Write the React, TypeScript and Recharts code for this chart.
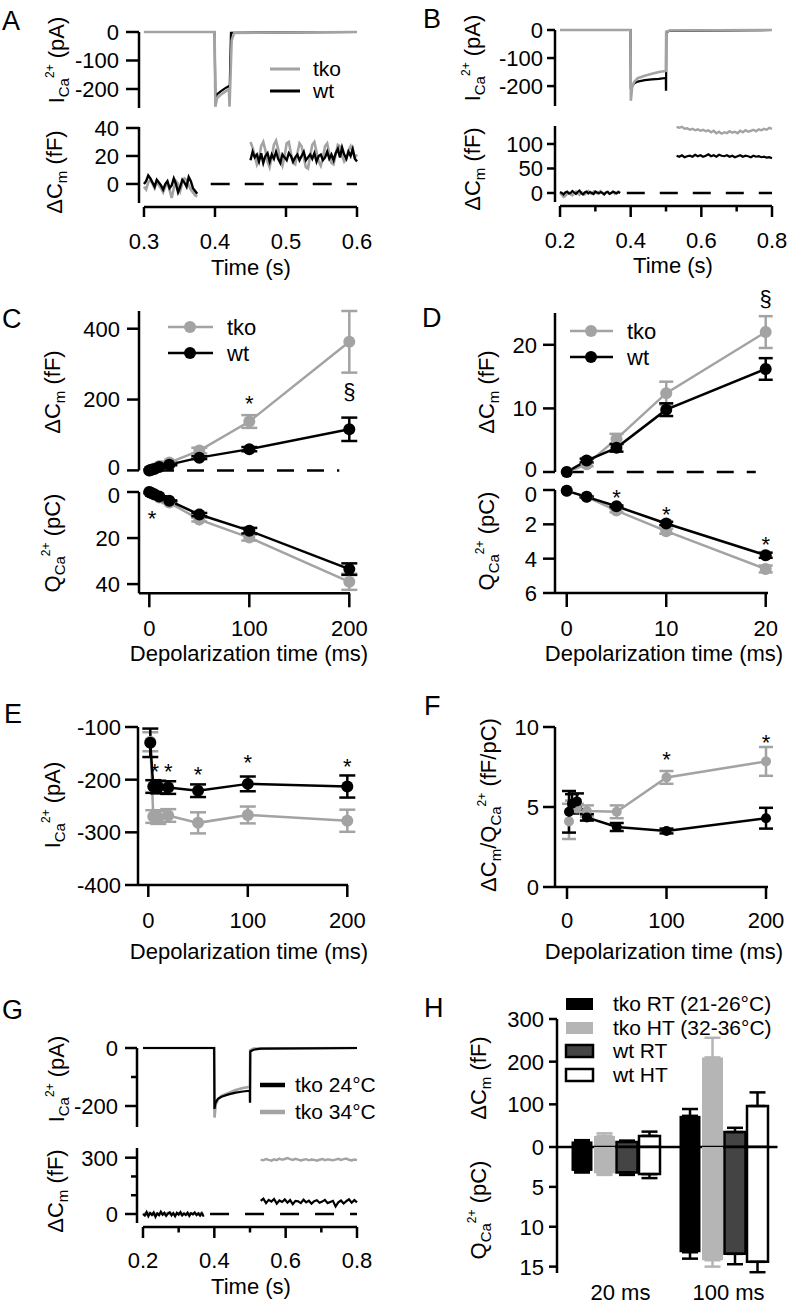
import React from 'react'
import { LineChart, Line, BarChart, Bar, XAxis, YAxis, ErrorBar, ReferenceLine, ReferenceDot } from 'recharts'

const FONT = '"Liberation Sans", Arial, Helvetica, sans-serif'
const GRAY = '#a3a3a3'
const BLACK = '#000'

// ---- A: 20 ms pulse (current steps, then Cm before / after)
const aIcaTkoT = [0.3, 0.3995, 0.4005, 0.403, 0.408, 0.414, 0.4195, 0.4205, 0.4235, 0.427, 0.6]
const aIcaTko = [0, 0, -262, -232, -220, -210, -200, -262, -30, -3, 0]
const aIcaWtT = [0.3, 0.3995, 0.4005, 0.403, 0.408, 0.414, 0.4195, 0.4205, 0.4225, 0.6]
const aIcaWt = [0, 0, -228, -218, -208, -198, -190, -225, -3, 0]
const aCmPreTko = [-2, -4, 1, 3, 0, -3, 2, -1, -3, -6, -2, 1, -4, -10, -3, 2, 0, -5, 1, 4, 3, -1, -4, -6, -8, -9]
const aCmPreWt = [0, 2, 6, 4, 1, -2, 3, 1, -1, -4, 0, 2, -3, -1, 4, 0, -6, -2, 3, 1, -2, 5, 2, -3, -5, -7]
const aCmPostTko = [30, 26, 20, 14, 18, 27, 30, 24, 16, 12, 19, 28, 31, 25, 17, 13, 20, 29, 30, 22, 15, 14, 22, 29, 27, 19, 12, 11, 20, 28, 30, 23, 16, 13, 19, 27, 29, 22, 15, 14, 21, 28, 27, 20, 16, 18, 24, 27, 23, 19, 21]
const aCmPostWt = [17, 23, 19, 21, 16, 22, 15, 20, 22, 16, 21, 18, 23, 18, 15, 21, 19, 17, 22, 20, 16, 19, 21, 17, 20, 23, 17, 19, 21, 18, 22, 16, 20, 21, 17, 19, 23, 18, 21, 17, 22, 25, 19, 26, 21, 18, 23, 20, 25, 18, 16]

// ---- B: 100 ms pulse
const bIcaTkoT = [0.2, 0.3995, 0.4005, 0.404, 0.41, 0.42, 0.44, 0.46, 0.48, 0.4995, 0.5005, 0.51, 0.8]
const bIcaTko = [0, 0, -252, -205, -185, -172, -163, -156, -150, -146, -6, -2, 0]
const bIcaWtT = [0.2, 0.3995, 0.4005, 0.404, 0.41, 0.42, 0.44, 0.46, 0.48, 0.4995, 0.4998, 0.5003, 0.5008, 0.51, 0.8]
const bIcaWt = [0, 0, -210, -200, -190, -184, -179, -176, -174, -171, -213, -213, -8, -3, 0]
const bCmPreTko = [0, -4, -8, -6, -2, 1, -3, -5, 0, 3, -1, -4, 2, 0, -3, 1, 4, 0, -2, 3, 1, -1, 2, 4, 0, -2, 1, 3, -1, 0, 2, -2, 1, 3, 0]
const bCmPreWt = [2, 0, -3, 1, 3, -1, 0, 4, 1, -2, 2, 5, 0, -3, 1, 3, -1, 2, 0, -2, 3, 1, -1, 2, 0, -3, 1, 2, -2, 0, 3, 1, -1, 2, 0]
const bCmPostTko = [135, 133, 135, 131, 132, 129, 131, 128, 130, 127, 129, 126, 128, 124, 127, 122, 125, 121, 124, 122, 126, 123, 125, 122, 127, 124, 128, 125, 127, 129, 126, 130, 128, 131, 129, 133, 131]
const bCmPostWt = [76, 74, 77, 73, 75, 76, 74, 78, 75, 77, 74, 76, 79, 75, 77, 74, 78, 76, 75, 77, 74, 76, 73, 75, 77, 74, 76, 75, 73, 76, 74, 75, 73, 74, 72, 73, 71]

// ---- C / D: depolarization series (D = first five durations)
const cT = [0, 2, 5, 10, 20, 50, 100, 200]
const cCmTko = [0, 1.2, 5.2, 12.4, 22, 56, 138, 363]
const cCmTkoErr = [0, 0.3, 0.8, 1.8, 2.5, 8, 18, 87]
const cCmWt = [0, 1.8, 3.8, 9.8, 16.2, 36, 60, 116]
const cCmWtErr = [0, 0.3, 0.6, 1.0, 1.7, 4, 6, 33]
const cQTko = [0.05, 0.4, 1.2, 2.4, 4.6, 12, 19.8, 39]
const cQTkoErr = [0, 0.03, 0.1, 0.15, 0.2, 0.8, 1.3, 3.5]
const cQWt = [0.05, 0.4, 0.95, 1.95, 3.8, 9.8, 16.8, 33.5]
const cQWtErr = [0, 0.03, 0.05, 0.1, 0.15, 0.7, 1.2, 2.5]

// ---- E: peak current
const eT = [2, 5, 10, 20, 50, 100, 200]
const eTko = [-128, -270, -272, -268, -282, -267, -278]
const eTkoErr = [18, 12, 12, 12, 20, 16, 21]
const eWt = [-130, -213, -214, -215, -221, -208, -213]
const eWtErr = [27, 12, 12, 12, 12, 14, 21]

// ---- F: efficiency
const fT = [2, 5, 10, 20, 50, 100, 200]
const fTko = [4.1, 5.0, 4.9, 4.75, 4.7, 6.85, 7.85]
const fTkoErr = [1.1, 0.4, 0.3, 0.35, 0.4, 0.4, 0.9]
const fWt = [4.7, 5.2, 5.35, 4.35, 3.75, 3.5, 4.3]
const fWtErr = [1.3, 0.6, 0.5, 0.2, 0.25, 0.15, 0.65]

// ---- G: tko at 24 vs 34 °C
const g24T = [0.2, 0.3995, 0.4005, 0.403, 0.41, 0.42, 0.44, 0.46, 0.48, 0.4995, 0.4998, 0.5003, 0.5008, 0.51, 0.53, 0.8]
const g24 = [0, 0, -210, -190, -175, -168, -160, -154, -150, -147, -185, -185, -12, -6, -2, 0]
const g34T = [0.2, 0.3995, 0.4005, 0.404, 0.41, 0.42, 0.44, 0.46, 0.48, 0.4995, 0.5005, 0.51, 0.8]
const g34 = [0, 0, -240, -195, -178, -165, -155, -145, -138, -134, -8, -2, 0]
const gCmPre24 = [0, -8, 10, -12, 5, -5, 8, -15, 3, -6, 12, -4, 6, -10, 2, 9, -7, 4, -12, 6, -3, 10, -8, 2, -5, 7, -10, 4, -2, 8, -6, 3, -9, 5, -14]
const gCmPre34 = [-5, 2, -3, 6, 0, 3, -4, 1, 5, -2, 0, 4, -3, 2, 6, -1, 3, 0, -5, 2, 4, -2, 1, 5, 0, -3, 2, 4, -1, 3, 0, -2, 5, 1, -3]
const gCmPost34 = [290, 286, 293, 288, 284, 291, 287, 295, 289, 293, 298, 292, 288, 294, 290, 285, 289, 292, 286, 290, 288, 284, 289, 293, 287, 291, 289, 286, 290, 294, 288, 292, 295, 289, 285, 290, 287]
const gCmPost24 = [70, 82, 58, 75, 66, 80, 55, 72, 64, 78, 60, 74, 52, 70, 68, 58, 76, 62, 71, 55, 68, 73, 60, 66, 75, 58, 64, 70, 40, 62, 72, 56, 68, 78, 60, 74, 62]

// ---- H: bars, dCm up / Q down
const hCats = ['20 ms', '100 ms']
const hCmTkoRT = [13, 73]
const hCmTkoRTErr = [3, 16]
const hCmTkoHT = [26, 210]
const hCmTkoHTErr = [6, 46]
const hCmWtRT = [12, 35]
const hCmWtRTErr = [3, 10]
const hCmWtHT = [26, 96]
const hCmWtHTErr = [10, 32]
const hQTkoRT = [3.0, 13.2]
const hQTkoRTErr = [0.2, 0.8]
const hQTkoHT = [3.3, 14.2]
const hQTkoHTErr = [0.2, 0.8]
const hQWtRT = [3.2, 13.4]
const hQWtRTErr = [0.3, 1.3]
const hQWtHT = [3.4, 14.4]
const hQWtHTErr = [0.5, 1.3]

const pts = (t: number[], v: number[]) => t.map((x, i) => ({ t: x, v: v[i] }))
const sampled = (t0: number, dt: number, v: number[]) => v.map((y, i) => ({ t: t0 + i * dt, v: y }))

const cRows = cT.map((t, i) => ({ t, tko: cCmTko[i], tkoE: cCmTkoErr[i], wt: cCmWt[i], wtE: cCmWtErr[i] }))
const cQRows = cT.map((t, i) => ({ t, tko: cQTko[i], tkoE: cQTkoErr[i], wt: cQWt[i], wtE: cQWtErr[i] }))
const dRows = cRows.filter((r) => r.t <= 20)
const dQRows = cQRows.filter((r) => r.t <= 20)
const eRows = eT.map((t, i) => ({ t, tko: eTko[i], tkoE: eTkoErr[i], wt: eWt[i], wtE: eWtErr[i] }))
const fRows = fT.map((t, i) => ({ t, tko: fTko[i], tkoE: fTkoErr[i], wt: fWt[i], wtE: fWtErr[i] }))
const hCmRows = hCats.map((cat, i) => ({
  cat,
  tkoRT: hCmTkoRT[i], tkoRTe: [0, hCmTkoRTErr[i]],
  tkoHT: hCmTkoHT[i], tkoHTe: [0, hCmTkoHTErr[i]],
  wtRT: hCmWtRT[i], wtRTe: [0, hCmWtRTErr[i]],
  wtHT: hCmWtHT[i], wtHTe: [0, hCmWtHTErr[i]],
}))
const hQRows = hCats.map((cat, i) => ({
  cat,
  tkoRT: hQTkoRT[i], tkoRTe: [0, hQTkoRTErr[i]],
  tkoHT: hQTkoHT[i], tkoHTe: [0, hQTkoHTErr[i]],
  wtRT: hQWtRT[i], wtRTe: [0, hQWtRTErr[i]],
  wtHT: hQWtHT[i], wtHTe: [0, hQWtHTErr[i]],
}))

type Rect = { x0: number; x1: number; y0: number; y1: number }
// room around the plot area: YAxis is YW wide, a shown XAxis is XH tall
const PAD = { top: 30, right: 30, left: 100, bottom: 80 }
const YW = 60
const XH = 50

// chart placed so that its plot area lands on r (page pixels)
function box(r: Rect, hasX: boolean) {
  return {
    style: { position: 'absolute' as const, left: r.x0 - PAD.left, top: r.y0 - PAD.top },
    width: r.x1 - r.x0 + PAD.left + PAD.right,
    height: r.y1 - r.y0 + PAD.top + PAD.bottom,
    margin: { top: PAD.top, right: PAD.right, left: PAD.left - YW, bottom: hasX ? PAD.bottom - XH : PAD.bottom },
  }
}

// nudge moves one label a few px (two stacked "0" labels would touch)
function yTick(len: number, gap: number, minor: number[] = [], nudge: Record<string, number> = {}) {
  return (p: any) => {
    const v = p.payload.value
    const m = minor.includes(v)
    return (
      <g>
        <line x1={p.x} x2={p.x - (m ? len / 2 : len)} y1={p.y} y2={p.y} stroke={BLACK} strokeWidth={2.5} />
        {m ? null : (
          <text x={p.x - len - gap} y={p.y + (nudge[String(v)] || 0)} dy="0.36em" textAnchor="end" fontSize={22} fontFamily={FONT} fill={BLACK}>
            {String(v)}
          </text>
        )}
      </g>
    )
  }
}

function xTick(gap: number, len: number, labelDy: number, minor: number[] = [], fmt = (v: any) => String(v), dx = 0) {
  return (p: any) => {
    const v = p.payload.value
    const m = minor.includes(v)
    const l = m ? len / 2 : len
    return (
      <g>
        {l > 0 ? <line x1={p.x} x2={p.x} y1={p.y + gap} y2={p.y + gap + l} stroke={BLACK} strokeWidth={2.5} /> : null}
        {m ? null : (
          <text x={p.x + dx} y={p.y + labelDy} dy="0.36em" textAnchor="middle" fontSize={22} fontFamily={FONT} fill={BLACK}>
            {fmt(v)}
          </text>
        )}
      </g>
    )
  }
}

const axisStyle = { stroke: BLACK, strokeWidth: 2.5 }

type TraceLine = { data: { t: number; v: number }[]; color: string; w: number }
type TraceProps = {
  r: Rect
  xDomain: [number, number]
  yDomain: [number, number]
  yTicks: number[]
  yMinor?: number[]
  yLen: number
  yGap: number
  lines: TraceLine[]
  dash?: { x0: number; x1: number; pattern: string }
  xAxis?: { ticks: number[]; minor?: number[]; from: number; to: number; len: number; labelDy: number }
}

function TracePlot(p: TraceProps) {
  const b = box(p.r, !!p.xAxis)
  const pxPerY = (p.r.y1 - p.r.y0) / (p.yDomain[1] - p.yDomain[0])
  const xLineY = p.yDomain[0] - 4 / pxPerY
  return (
    <div style={b.style}>
      <LineChart width={b.width} height={b.height} margin={b.margin}>
        {p.xAxis ? (
          <XAxis
            type="number"
            dataKey="t"
            domain={p.xDomain}
            ticks={p.xAxis.ticks}
            interval={0}
            height={XH}
            axisLine={false}
            tickLine={false}
            tickSize={0}
            tickMargin={0}
            tick={xTick(4, p.xAxis.len, p.xAxis.labelDy, p.xAxis.minor, (v) => v.toFixed(1))}
          />
        ) : (
          <XAxis type="number" dataKey="t" domain={p.xDomain} hide />
        )}
        <YAxis
          type="number"
          domain={p.yDomain}
          ticks={p.yTicks}
          interval={0}
          width={YW}
          axisLine={axisStyle}
          tickLine={false}
          tickSize={0}
          tickMargin={0}
          tick={yTick(p.yLen, p.yGap, p.yMinor)}
        />
        {p.dash ? (
          <ReferenceLine
            segment={[{ x: p.dash.x0, y: 0 }, { x: p.dash.x1, y: 0 }]}
            stroke={BLACK}
            strokeWidth={2.5}
            strokeDasharray={p.dash.pattern}
          />
        ) : null}
        {p.xAxis ? (
          <ReferenceLine
            segment={[{ x: p.xAxis.from, y: xLineY }, { x: p.xAxis.to, y: xLineY }]}
            stroke={BLACK}
            strokeWidth={2.5}
            ifOverflow="visible"
          />
        ) : null}
        {p.lines.map((l, i) => (
          <Line
            key={i}
            data={l.data}
            dataKey="v"
            type="linear"
            stroke={l.color}
            strokeWidth={l.w}
            dot={false}
            activeDot={false}
            isAnimationActive={false}
          />
        ))}
      </LineChart>
    </div>
  )
}

type Mark = { x: number; y: number; s: string }
type PointProps = {
  r: Rect
  data: any[]
  xDomain: [number, number]
  yDomain: [number, number]
  yTicks: number[]
  yLen: number
  yGap: number
  yNudge?: Record<string, number>
  reversed?: boolean
  xTicks?: number[]
  xLen?: number
  xLabelDy?: number
  dotR: number
  cap: number
  marks?: Mark[]
  dash?: { x0: number; x1: number; pattern: string }
}

function PointPlot(p: PointProps) {
  const b = box(p.r, !!p.xTicks)
  return (
    <div style={b.style}>
      <LineChart width={b.width} height={b.height} margin={b.margin} data={p.data}>
        {p.xTicks ? (
          <XAxis
            type="number"
            dataKey="t"
            domain={p.xDomain}
            ticks={p.xTicks}
            interval={0}
            height={XH}
            axisLine={axisStyle}
            tickLine={false}
            tickSize={0}
            tickMargin={0}
            tick={xTick(0, p.xLen || 12, p.xLabelDy || 35)}
          />
        ) : (
          <XAxis type="number" dataKey="t" domain={p.xDomain} hide />
        )}
        <YAxis
          type="number"
          domain={p.yDomain}
          ticks={p.yTicks}
          reversed={p.reversed}
          interval={0}
          width={YW}
          axisLine={axisStyle}
          tickLine={false}
          tickSize={0}
          tickMargin={0}
          tick={yTick(p.yLen, p.yGap, [], p.yNudge)}
        />
        {p.dash ? (
          <ReferenceLine
            segment={[{ x: p.dash.x0, y: 0 }, { x: p.dash.x1, y: 0 }]}
            stroke={BLACK}
            strokeWidth={2.5}
            strokeDasharray={p.dash.pattern}
          />
        ) : null}
        <Line
          dataKey="tko"
          type="linear"
          stroke={GRAY}
          strokeWidth={2.5}
          dot={{ r: p.dotR, fill: GRAY, stroke: 'none' }}
          activeDot={false}
          isAnimationActive={false}
        >
          <ErrorBar dataKey="tkoE" width={p.cap} stroke={GRAY} strokeWidth={2.5} direction="y" />
        </Line>
        <Line
          dataKey="wt"
          type="linear"
          stroke={BLACK}
          strokeWidth={2.5}
          dot={{ r: p.dotR, fill: BLACK, stroke: 'none' }}
          activeDot={false}
          isAnimationActive={false}
        >
          <ErrorBar dataKey="wtE" width={p.cap} stroke={BLACK} strokeWidth={2.5} direction="y" />
        </Line>
        {(p.marks || []).map((m, i) => (
          <ReferenceDot
            key={i}
            x={m.x}
            y={m.y}
            r={0}
            fill="none"
            stroke="none"
            ifOverflow="visible"
            label={{ value: m.s, position: 'center', fontSize: 22, fill: BLACK, fontFamily: FONT }}
          />
        ))}
      </LineChart>
    </div>
  )
}

const BAR_FILL = { tkoRT: '#000', tkoHT: '#b5b5b5', wtRT: '#444', wtHT: '#fff' }

function HBars({ r, data, domain, ticks, reversed, showX }: { r: Rect; data: any[]; domain: [number, number]; ticks: number[]; reversed?: boolean; showX?: boolean }) {
  const b = box(r, !!showX)
  return (
    <div style={b.style}>
      <BarChart width={b.width} height={b.height} margin={b.margin} data={data} barCategoryGap={10} barGap={1.5}>
        {showX ? (
          <XAxis
            dataKey="cat"
            type="category"
            padding={{ left: 4.5, right: 0 }}
            interval={0}
            height={XH}
            axisLine={false}
            tickLine={false}
            tickSize={0}
            tickMargin={0}
            tick={xTick(0, 0, 19, [], (v) => String(v), 5)}
          />
        ) : (
          <XAxis dataKey="cat" type="category" padding={{ left: 4.5, right: 0 }} hide />
        )}
        <YAxis
          type="number"
          domain={domain}
          ticks={ticks}
          reversed={reversed}
          interval={0}
          width={YW}
          axisLine={axisStyle}
          tickLine={false}
          tickSize={0}
          tickMargin={0}
          tick={yTick(8, 5)}
        />
        <Bar dataKey="tkoRT" fill={BAR_FILL.tkoRT} isAnimationActive={false}>
          <ErrorBar dataKey="tkoRTe" width={8} stroke="#000" strokeWidth={2.5} direction="y" />
        </Bar>
        <Bar dataKey="tkoHT" fill={BAR_FILL.tkoHT} isAnimationActive={false}>
          <ErrorBar dataKey="tkoHTe" width={8} stroke={BAR_FILL.tkoHT} strokeWidth={2.5} direction="y" />
        </Bar>
        <Bar dataKey="wtRT" fill={BAR_FILL.wtRT} stroke="#000" strokeWidth={2.5} isAnimationActive={false}>
          <ErrorBar dataKey="wtRTe" width={8} stroke="#000" strokeWidth={2.5} direction="y" />
        </Bar>
        <Bar dataKey="wtHT" fill={BAR_FILL.wtHT} stroke="#000" strokeWidth={2.5} isAnimationActive={false}>
          <ErrorBar dataKey="wtHTe" width={8} stroke="#000" strokeWidth={2.5} direction="y" />
        </Bar>
        {!reversed ? <ReferenceLine y={0} stroke="#000" strokeWidth={2.5} /> : null}
      </BarChart>
    </div>
  )
}

type Part = [string, 'n' | 'b' | 'p']
function YTitle({ x, y, parts }: { x: number; y: number; parts: Part[] }) {
  let cur = 0
  const spans = parts.map(([s, k], i) => {
    const target = k === 'b' ? 5 : k === 'p' ? -10 : 0
    const dy = target - cur
    cur = target
    return (
      <tspan key={i} dy={dy} fontSize={k === 'n' ? 22 : k === 'b' ? 15 : 12}>
        {s}
      </tspan>
    )
  })
  return (
    <text transform={`rotate(-90 ${x} ${y})`} x={x} y={y + 7.7} textAnchor="middle" fontSize={22}>
      {spans}
    </text>
  )
}

const ICA: Part[] = [['I', 'n'], ['Ca', 'b'], ['2+', 'p'], [' (pA)', 'n']]
const DCM: Part[] = [['ΔC', 'n'], ['m', 'b'], [' (fF)', 'n']]
const QCA: Part[] = [['Q', 'n'], ['Ca', 'b'], ['2+', 'p'], [' (pC)', 'n']]
const RATIO: Part[] = [['ΔC', 'n'], ['m', 'b'], ['/Q', 'n'], ['Ca', 'b'], ['2+', 'p'], [' (fF/pC)', 'n']]

function Overlay() {
  const letters: [string, number, number][] = [
    ['A', 2, 30], ['B', 423, 28], ['C', 2, 328], ['D', 422, 327],
    ['E', 4, 723], ['F', 424, 715], ['G', 2, 1019], ['H', 424, 1017],
  ]
  const xTitles: [string, number, number][] = [
    ['Time (s)', 251, 267], ['Time (s)', 673, 265], ['Time (s)', 251, 1286],
    ['Depolarization time (ms)', 249, 653], ['Depolarization time (ms)', 664, 653],
    ['Depolarization time (ms)', 249, 951], ['Depolarization time (ms)', 664, 951],
  ]
  const hLegend: [string, string, string | null, number][] = [
    ['tko RT (21-26°C)', BAR_FILL.tkoRT, null, 1004],
    ['tko HT (32-36°C)', BAR_FILL.tkoHT, null, 1028],
    ['wt RT', BAR_FILL.wtRT, '#000', 1051],
    ['wt HT', BAR_FILL.wtHT, '#000', 1075],
  ]
  return (
    <svg width={793} height={1307} style={{ position: 'absolute', left: 0, top: 0, pointerEvents: 'none' }} fontFamily={FONT} fill="#000">
      {letters.map(([s, x, y]) => (
        <text key={s} x={x} y={y} fontSize={27}>{s}</text>
      ))}
      {xTitles.map(([s, x, y], i) => (
        <text key={i} x={x} y={y} dy="0.35em" textAnchor="middle" fontSize={22}>{s}</text>
      ))}
      <YTitle x={56} y={60} parts={ICA} />
      <YTitle x={54} y={172} parts={DCM} />
      <YTitle x={472} y={58} parts={ICA} />
      <YTitle x={472} y={169} parts={DCM} />
      <YTitle x={52} y={392} parts={DCM} />
      <YTitle x={52} y={543} parts={QCA} />
      <YTitle x={486} y={392} parts={DCM} />
      <YTitle x={486} y={541} parts={QCA} />
      <YTitle x={52} y={805} parts={ICA} />
      <YTitle x={488} y={805} parts={RATIO} />
      <YTitle x={56} y={1079} parts={ICA} />
      <YTitle x={55} y={1191} parts={DCM} />
      <YTitle x={478} y={1078} parts={DCM} />
      <YTitle x={478} y={1210} parts={QCA} />

      {/* A legend */}
      <line x1={270} x2={300} y1={69} y2={69} stroke={GRAY} strokeWidth={3} />
      <text x={313} y={69} dy="0.35em" fontSize={21}>tko</text>
      <line x1={270} x2={300} y1={91} y2={91} stroke={BLACK} strokeWidth={3} />
      <text x={313} y={91} dy="0.35em" fontSize={21}>wt</text>

      {/* C legend */}
      <line x1={168} x2={213} y1={327} y2={327} stroke={GRAY} strokeWidth={2.5} />
      <circle cx={190} cy={327} r={6} fill={GRAY} />
      <text x={227} y={327} dy="0.35em" fontSize={22}>tko</text>
      <line x1={168} x2={213} y1={353} y2={353} stroke={BLACK} strokeWidth={2.5} />
      <circle cx={190} cy={353} r={6} fill={BLACK} />
      <text x={227} y={353} dy="0.35em" fontSize={22}>wt</text>

      {/* D legend */}
      <line x1={570} x2={613} y1={331} y2={331} stroke={GRAY} strokeWidth={2.5} />
      <circle cx={591} cy={331} r={6} fill={GRAY} />
      <text x={627} y={331} dy="0.35em" fontSize={22}>tko</text>
      <line x1={570} x2={613} y1={357} y2={357} stroke={BLACK} strokeWidth={2.5} />
      <circle cx={591} cy={357} r={6} fill={BLACK} />
      <text x={627} y={357} dy="0.35em" fontSize={22}>wt</text>

      {/* G legend */}
      <line x1={260} x2={285} y1={1085} y2={1085} stroke={BLACK} strokeWidth={4.5} />
      <text x={295} y={1085} dy="0.35em" fontSize={21}>tko 24°C</text>
      <line x1={260} x2={285} y1={1112} y2={1112} stroke={GRAY} strokeWidth={4.5} />
      <text x={295} y={1112} dy="0.35em" fontSize={21}>tko 34°C</text>

      {/* H legend */}
      {hLegend.map(([s, fill, stroke, y]) => (
        <g key={s}>
          <rect x={566} y={y - 6} width={27} height={12} fill={fill} stroke={stroke || 'none'} strokeWidth={2.5} />
          <text x={613} y={y} dy="0.35em" fontSize={21}>{s}</text>
        </g>
      ))}
    </svg>
  )
}

export default function App() {
  const aX: [number, number] = [0.293, 0.6]
  const bX: [number, number] = [0.1858, 0.8]
  const gX: [number, number] = [0.1832, 0.8]
  const tTicks = [0.2, 0.3, 0.4, 0.5, 0.6, 0.7, 0.8]
  const tMinor = [0.3, 0.5, 0.7]
  return (
    <div style={{ position: 'absolute', left: 0, top: 0, width: 793, height: 1307, background: '#fff', overflow: 'hidden', fontFamily: FONT }}>
      {/* A */}
      <TracePlot
        r={{ x0: 139, x1: 357, y0: 32, y1: 108 }}
        xDomain={aX}
        yDomain={[-266.7, 0]}
        yTicks={[-200, -100, 0]}
        yLen={13}
        yGap={7}
        lines={[
          { data: pts(aIcaWtT, aIcaWt), color: BLACK, w: 2.2 },
          { data: pts(aIcaTkoT, aIcaTko), color: GRAY, w: 2.6 },
        ]}
      />
      <TracePlot
        r={{ x0: 139, x1: 357, y0: 127, y1: 203 }}
        xDomain={aX}
        yDomain={[-13.6, 40.7]}
        yTicks={[0, 20, 40]}
        yLen={13}
        yGap={7}
        dash={{ x0: 0.394, x1: 0.6, pattern: '19 15' }}
        xAxis={{ ticks: [0.3, 0.4, 0.5, 0.6], from: 0.3, to: 0.6, len: 10, labelDy: 38 }}
        lines={[
          { data: sampled(0.3, 0.003, aCmPreTko), color: GRAY, w: 2.6 },
          { data: sampled(0.45, 0.003, aCmPostTko), color: GRAY, w: 2.6 },
          { data: sampled(0.3, 0.003, aCmPreWt), color: BLACK, w: 2.4 },
          { data: sampled(0.45, 0.003, aCmPostWt), color: BLACK, w: 2.4 },
        ]}
      />

      {/* B */}
      <TracePlot
        r={{ x0: 555, x1: 772, y0: 30, y1: 106 }}
        xDomain={bX}
        yDomain={[-271, 0]}
        yTicks={[-200, -100, 0]}
        yLen={8}
        yGap={4}
        lines={[
          { data: pts(bIcaWtT, bIcaWt), color: BLACK, w: 2.2 },
          { data: pts(bIcaTkoT, bIcaTko), color: GRAY, w: 2.6 },
        ]}
      />
      <TracePlot
        r={{ x0: 555, x1: 772, y0: 126, y1: 202 }}
        xDomain={bX}
        yDomain={[-18.4, 136.7]}
        yTicks={[0, 50, 100]}
        yLen={8}
        yGap={4}
        dash={{ x0: 0.389, x1: 0.8, pattern: '18 15' }}
        xAxis={{ ticks: tTicks, minor: tMinor, from: 0.2, to: 0.8, len: 11, labelDy: 38 }}
        lines={[
          { data: sampled(0.2, 0.005, bCmPreTko), color: GRAY, w: 2.4 },
          { data: sampled(0.53, 0.0075, bCmPostTko), color: GRAY, w: 2.4 },
          { data: sampled(0.2, 0.005, bCmPreWt), color: BLACK, w: 2.2 },
          { data: sampled(0.53, 0.0075, bCmPostWt), color: BLACK, w: 2.2 },
        ]}
      />

      {/* C */}
      <PointPlot
        r={{ x0: 139, x1: 350, y0: 310.6, y1: 470 }}
        data={cRows}
        xDomain={[-10.3, 200.7]}
        yDomain={[0, 450]}
        yTicks={[0, 200, 400]}
        yLen={12}
        yGap={7}
        yNudge={{ '0': -3 }}
        dotR={6}
        cap={8}
        dash={{ x0: 7.7, x1: 190, pattern: '17 13' }}
        marks={[{ x: 100, y: 190, s: '*' }, { x: 200, y: 223, s: '§' }]}
      />
      <PointPlot
        r={{ x0: 139, x1: 350, y0: 491.7, y1: 593 }}
        data={cQRows}
        xDomain={[-10.3, 200.7]}
        yDomain={[0, 44]}
        reversed
        yTicks={[0, 20, 40]}
        yLen={12}
        yGap={7}
        yNudge={{ '0': 3 }}
        xTicks={[0, 100, 200]}
        xLen={14}
        xLabelDy={35}
        dotR={6}
        cap={8}
        marks={[{ x: 2.7, y: 11.2, s: '*' }]}
      />

      {/* D */}
      <PointPlot
        r={{ x0: 555, x1: 768, y0: 313, y1: 472 }}
        data={dRows}
        xDomain={[-1.18, 20.23]}
        yDomain={[0, 25]}
        yTicks={[0, 10, 20]}
        yLen={12}
        yGap={6}
        yNudge={{ '0': -3 }}
        dotR={6}
        cap={7}
        dash={{ x0: 0, x1: 19, pattern: '17 13' }}
        marks={[{ x: 20, y: 27.4, s: '§' }]}
      />
      <PointPlot
        r={{ x0: 555, x1: 768, y0: 490, y1: 593 }}
        data={dQRows}
        xDomain={[-1.18, 20.23]}
        yDomain={[0, 6]}
        reversed
        yTicks={[0, 2, 4, 6]}
        yLen={12}
        yGap={6}
        yNudge={{ '0': 4 }}
        xTicks={[0, 10, 20]}
        xLen={14}
        xLabelDy={35}
        dotR={6}
        cap={7}
        marks={[{ x: 5, y: 0.44, s: '*' }, { x: 10, y: 1.43, s: '*' }, { x: 20, y: 3.17, s: '*' }]}
      />

      {/* E */}
      <PointPlot
        r={{ x0: 138, x1: 348, y0: 727, y1: 885 }}
        data={eRows}
        xDomain={[-10.35, 200.7]}
        yDomain={[-400, -100]}
        yTicks={[-400, -300, -200, -100]}
        yLen={13}
        yGap={4}
        xTicks={[0, 100, 200]}
        xLen={12}
        xLabelDy={35}
        dotR={6}
        cap={8}
        marks={[
          { x: 6.5, y: -184, s: '*' },
          { x: 20, y: -184, s: '*' },
          { x: 50, y: -190, s: '*' },
          { x: 100, y: -167, s: '*' },
          { x: 200, y: -175, s: '*' },
        ]}
      />

      {/* F */}
      <PointPlot
        r={{ x0: 555, x1: 768, y0: 727, y1: 887 }}
        data={fRows}
        xDomain={[-12.06, 202]}
        yDomain={[0, 10]}
        yTicks={[0, 5, 10]}
        yLen={12}
        yGap={4}
        xTicks={[0, 100, 200]}
        xLen={12}
        xLabelDy={33}
        dotR={5}
        cap={7}
        marks={[{ x: 100, y: 7.97, s: '*' }, { x: 200, y: 9.03, s: '*' }]}
      />

      {/* G */}
      <TracePlot
        r={{ x0: 137, x1: 357, y0: 1048, y1: 1127 }}
        xDomain={gX}
        yDomain={[-272.4, 0]}
        yTicks={[-200, -100, 0]}
        yMinor={[-100]}
        yLen={12}
        yGap={7}
        lines={[
          { data: pts(g34T, g34), color: GRAY, w: 2.6 },
          { data: pts(g24T, g24), color: BLACK, w: 2.2 },
        ]}
      />
      <TracePlot
        r={{ x0: 137, x1: 357, y0: 1148, y1: 1223 }}
        xDomain={gX}
        yDomain={[-48, 351.6]}
        yTicks={[0, 100, 200, 300]}
        yMinor={[100, 200]}
        yLen={12}
        yGap={7}
        dash={{ x0: 0.388, x1: 0.8, pattern: '19 16' }}
        xAxis={{ ticks: tTicks, minor: tMinor, from: 0.2, to: 0.8, len: 11, labelDy: 37 }}
        lines={[
          { data: sampled(0.2, 0.005, gCmPre34), color: GRAY, w: 2.4 },
          { data: sampled(0.53, 0.0075, gCmPost34), color: GRAY, w: 2.4 },
          { data: sampled(0.2, 0.005, gCmPre24), color: BLACK, w: 2.2 },
          { data: sampled(0.53, 0.0075, gCmPost24), color: BLACK, w: 2.2 },
        ]}
      />

      {/* H */}
      <HBars r={{ x0: 557, x1: 777.5, y0: 1019, y1: 1147 }} data={hCmRows} domain={[0, 300]} ticks={[0, 100, 200, 300]} />
      <HBars r={{ x0: 557, x1: 777.5, y0: 1147, y1: 1273 }} data={hQRows} domain={[0, 15.8]} ticks={[5, 10, 15]} reversed showX />

      <Overlay />
    </div>
  )
}
